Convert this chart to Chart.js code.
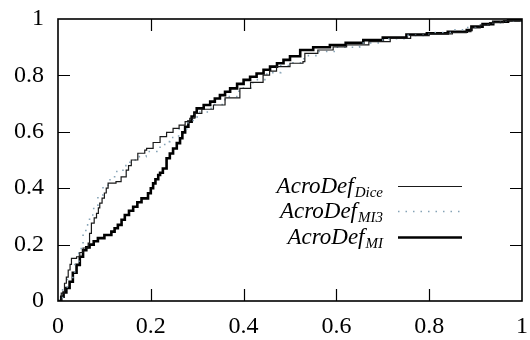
<!DOCTYPE html>
<html>
<head>
<meta charset="utf-8">
<script src="https://cdn.jsdelivr.net/npm/chart.js@4/dist/chart.umd.min.js"></script>
<style>
  html, body { margin: 0; padding: 0; background: #fff; }
  #chart { display: block; }
</style>
</head>
<body>
<canvas id="chart" width="530" height="340"></canvas>
<script>
// legend text: main word + subscript per series
const legendMain = 'AcroDef';
const legendSubs = ['Dice', 'MI3', 'MI'];

const xTicks = [0, 0.2, 0.4, 0.6, 0.8, 1];
const yTicks = [0, 0.2, 0.4, 0.6, 0.8, 1];

// AcroDef_Dice (thin line)
const diceX = [0, 0.007, 0.014, 0.018, 0.022, 0.026, 0.029, 0.04, 0.047, 0.054, 0.065, 0.068, 0.072, 0.078, 0.083, 0.087, 0.09, 0.095, 0.1, 0.104, 0.108, 0.125, 0.136, 0.147, 0.152, 0.158, 0.172, 0.187, 0.191, 0.205, 0.22, 0.234, 0.248, 0.261, 0.274, 0.284, 0.295, 0.31, 0.335, 0.36, 0.392, 0.415, 0.442, 0.456, 0.471, 0.5, 0.528, 0.532, 0.56, 0.593, 0.622, 0.67, 0.716, 0.76, 0.8, 0.85, 0.88, 0.89, 0.91, 0.93, 0.96, 1];
const diceY = [0, 0.028, 0.063, 0.085, 0.11, 0.13, 0.151, 0.157, 0.172, 0.188, 0.205, 0.24, 0.276, 0.295, 0.311, 0.33, 0.347, 0.365, 0.383, 0.4, 0.418, 0.423, 0.44, 0.464, 0.48, 0.5, 0.524, 0.535, 0.541, 0.562, 0.583, 0.598, 0.612, 0.624, 0.636, 0.648, 0.665, 0.68, 0.695, 0.72, 0.754, 0.775, 0.801, 0.815, 0.831, 0.843, 0.849, 0.878, 0.89, 0.901, 0.908, 0.92, 0.931, 0.941, 0.947, 0.952, 0.955, 0.968, 0.978, 0.987, 0.994, 1];

// AcroDef_MI3 (dotted)
const mi3X = [0, 0.01, 0.02, 0.032, 0.036, 0.045, 0.05, 0.054, 0.06, 0.068, 0.077, 0.086, 0.097, 0.108, 0.122, 0.14, 0.155, 0.172, 0.19, 0.213, 0.23, 0.241, 0.26, 0.28, 0.3, 0.33, 0.36, 0.39, 0.42, 0.45, 0.48, 0.5, 0.53, 0.56, 0.6, 0.65, 0.7, 0.75, 0.8, 0.85, 0.88, 0.9, 0.93, 0.96, 1];
const mi3Y = [0, 0.04, 0.08, 0.086, 0.134, 0.17, 0.2, 0.246, 0.27, 0.305, 0.34, 0.376, 0.405, 0.43, 0.459, 0.48, 0.5, 0.512, 0.53, 0.545, 0.565, 0.58, 0.61, 0.64, 0.67, 0.697, 0.725, 0.755, 0.785, 0.81, 0.835, 0.845, 0.87, 0.885, 0.9, 0.915, 0.93, 0.942, 0.952, 0.962, 0.97, 0.978, 0.987, 0.994, 1];

// AcroDef_MI (thick line)
const miX = [0, 0.007, 0.012, 0.018, 0.025, 0.032, 0.04, 0.047, 0.054, 0.061, 0.068, 0.077, 0.086, 0.1, 0.115, 0.122, 0.129, 0.137, 0.144, 0.153, 0.162, 0.171, 0.18, 0.194, 0.2, 0.205, 0.21, 0.216, 0.22, 0.226, 0.234, 0.241, 0.248, 0.256, 0.263, 0.268, 0.274, 0.281, 0.288, 0.294, 0.299, 0.314, 0.328, 0.338, 0.349, 0.36, 0.371, 0.386, 0.4, 0.414, 0.428, 0.443, 0.457, 0.472, 0.486, 0.5, 0.522, 0.55, 0.586, 0.62, 0.658, 0.7, 0.751, 0.795, 0.84, 0.881, 0.891, 0.915, 0.938, 0.97, 1];
const miY = [0, 0.015, 0.03, 0.046, 0.068, 0.1, 0.128, 0.157, 0.18, 0.19, 0.2, 0.212, 0.223, 0.234, 0.246, 0.258, 0.27, 0.288, 0.305, 0.32, 0.334, 0.35, 0.364, 0.382, 0.4, 0.417, 0.432, 0.447, 0.455, 0.47, 0.506, 0.523, 0.541, 0.56, 0.577, 0.598, 0.618, 0.636, 0.654, 0.668, 0.683, 0.695, 0.707, 0.718, 0.73, 0.742, 0.754, 0.77, 0.784, 0.795, 0.807, 0.82, 0.831, 0.843, 0.855, 0.868, 0.89, 0.9, 0.908, 0.916, 0.925, 0.934, 0.945, 0.949, 0.955, 0.961, 0.973, 0.982, 0.99, 0.995, 1];

const pts = (xs, ys) => xs.map((x, i) => ({ x, y: ys[i] }));

const series = [
  { data: pts(diceX, diceY), color: '#1a1a1a', width: 1.2, dash: [] },
  { data: pts(mi3X, mi3Y), color: '#86a3b6', width: 1.6, dash: [1.5, 6] },
  { data: pts(miX, miY), color: '#000', width: 2.6, dash: [] },
];

const FONT = "'Liberation Serif', 'Times New Roman', Tinos, 'DejaVu Serif', 'Noto Serif', serif";

// box + inward ticks on all four sides, like gnuplot
const framePlugin = {
  id: 'frame',
  afterDatasetsDraw(chart) {
    const { ctx, chartArea: a, scales } = chart;
    ctx.save();
    ctx.strokeStyle = '#000';
    ctx.lineWidth = 1.2;
    const len = 12;
    xTicks.forEach((v) => {
      if (v === 0 || v === 1) return;
      const px = Math.round(scales.x.getPixelForValue(v)) + 0.5;
      ctx.beginPath();
      ctx.moveTo(px, a.bottom); ctx.lineTo(px, a.bottom - len);
      ctx.moveTo(px, a.top); ctx.lineTo(px, a.top + len);
      ctx.stroke();
    });
    yTicks.forEach((v) => {
      if (v === 0 || v === 1) return;
      const py = Math.round(scales.y.getPixelForValue(v)) + 0.5;
      ctx.beginPath();
      ctx.moveTo(a.left, py); ctx.lineTo(a.left + len, py);
      ctx.moveTo(a.right, py); ctx.lineTo(a.right - len, py);
      ctx.stroke();
    });
    ctx.lineWidth = 1.6;
    ctx.strokeRect(a.left, a.top, a.right - a.left, a.bottom - a.top);
    ctx.restore();
  },
};

// legend with subscripts (built-in legend cannot do this)
const legendPlugin = {
  id: 'subLegend',
  afterDraw(chart) {
    const { ctx, chartArea: a } = chart;
    const textRight = a.right - 139;
    const lineX0 = a.right - 124;
    const lineX1 = a.right - 60;
    const rows = [a.top + 167, a.top + 192, a.top + 218];
    ctx.save();
    ctx.fillStyle = '#000';
    ctx.textBaseline = 'alphabetic';
    ctx.textAlign = 'left';
    legendSubs.forEach((sub, i) => {
      const y = rows[i];
      ctx.font = `italic 15px ${FONT}`;
      const subW = ctx.measureText(sub).width;
      ctx.font = `italic 23px ${FONT}`;
      const mainW = ctx.measureText(legendMain).width;
      const x0 = textRight - subW - mainW - 1;
      ctx.fillText(legendMain, x0, y + 7);
      ctx.font = `italic 15px ${FONT}`;
      ctx.fillText(sub, x0 + mainW + 1, y + 11);

      const s = series[i];
      ctx.strokeStyle = s.color;
      ctx.lineWidth = s.width;
      ctx.setLineDash(s.dash);
      ctx.beginPath();
      ctx.moveTo(lineX0, y + 0.5);
      ctx.lineTo(lineX1, y + 0.5);
      ctx.stroke();
      ctx.setLineDash([]);
    });
    ctx.restore();
  },
};

new Chart(document.getElementById('chart'), {
  type: 'line',
  data: {
    datasets: series.map((s, i) => ({
      label: legendMain + legendSubs[i],
      data: s.data,
      borderColor: s.color,
      borderWidth: s.width,
      borderDash: s.dash,
      stepped: true,
      pointRadius: 0,
      fill: false,
    })),
  },
  options: {
    responsive: false,
    animation: false,
    devicePixelRatio: 1,
    layout: { padding: { top: 19, right: 8, left: 0, bottom: 0 } },
    plugins: { legend: { display: false }, tooltip: { enabled: false } },
    scales: {
      x: {
        type: 'linear',
        min: 0,
        max: 1,
        afterBuildTicks: (s) => { s.ticks = xTicks.map((v) => ({ value: v })); },
        afterFit: (s) => { s.height = 39; },
        ticks: {
          color: '#000',
          font: { family: FONT, size: 24 },
          padding: 0,
          maxRotation: 0,
          callback: (v) => String(+v.toFixed(1)),
        },
        // ticks are drawn by the frame plugin; tickLength only offsets labels
        grid: { display: false, drawTicks: true, tickLength: 11 },
        border: { display: false },
      },
      y: {
        type: 'linear',
        min: 0,
        max: 1,
        afterBuildTicks: (s) => { s.ticks = yTicks.map((v) => ({ value: v })); },
        afterFit: (s) => { s.width = 58; },
        ticks: {
          color: '#000',
          font: { family: FONT, size: 24 },
          padding: 0,
          callback: (v) => String(+v.toFixed(1)),
        },
        grid: { display: false, drawTicks: true, tickLength: 14 },
        border: { display: false },
      },
    },
  },
  plugins: [framePlugin, legendPlugin],
});
</script>
</body>
</html>
